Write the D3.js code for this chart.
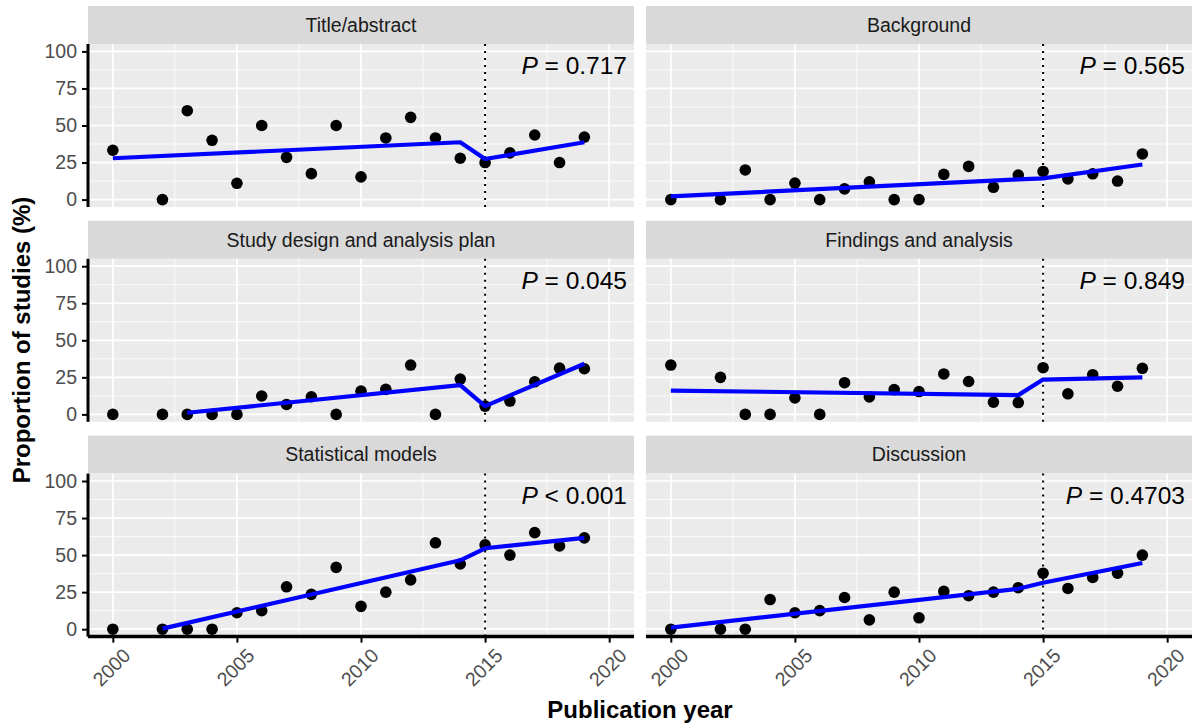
<!DOCTYPE html>
<html><head><meta charset="utf-8">
<script src="https://cdn.jsdelivr.net/npm/d3@7"></script>
<style>
body{margin:0;background:#fff;}
svg{display:block;font-family:"Liberation Sans",Arial,sans-serif;}
</style></head>
<body><svg id="chart" width="1193" height="727"></svg>
<script>
const years = [2000,2002,2003,2004,2005,2006,2007,2008,2009,2010,2011,2012,2013,2014,2015,2016,2017,2018,2019];
const panelNames = ["Title/abstract","Background","Study design and analysis plan","Findings and analysis","Statistical models","Discussion"];
const pOps = ["=","=","=","=","<","="];
const pValues = ["0.717","0.565","0.045","0.849","0.001","0.4703"];

const titleAbstract = [33.3,0,60,40,11,50,28.5,17.5,50,15.3,41.6,55.5,41.6,27.9,25,31.5,43.6,25,42.2];
const background    = [0,0,20,0,11.1,0,7.2,12,0,0,17,22.4,8.3,16.6,19,13.9,17.4,12.5,30.8];
const studyDesign   = [0,0,0,0,0,12.4,6.7,11.9,0,15.7,16.9,33.3,0,23.8,5.6,9,22,31.2,30.8];
const findings      = [33.3,25,0,0,11.1,0,21.4,11.8,16.7,15.4,27.3,22.2,8.3,8,31.5,13.9,26.8,19,31.1];
const statModels    = [0,0,0,0,11.1,12.5,28.6,23.5,41.7,15.4,25,33.3,58.3,44,56.9,50,65.2,56.2,61.6];
const discussion    = [0,0,0,20,11.1,12.5,21.4,6.3,25,7.7,25.5,22.6,25,28,37.8,27.5,34.9,37.8,50];
const seriesValues = [titleAbstract,background,studyDesign,findings,statModels,discussion];

// segmented-regression fitted lines (year, value)
const fitYears = [
  [2000,2014,2015,2019],
  [2000,2014,2015,2019],
  [2003,2014,2015,2019],
  [2000,2014,2015,2019],
  [2002,2014,2015,2019],
  [2000,2014,2015,2019]
];
const fitValues = [
  [27.9,38.7,27.4,38.7],
  [2.2,13.6,14.3,23.7],
  [1.1,19.8,5.6,34.2],
  [16.1,13.0,23.5,25.0],
  [0.4,46.5,54.6,61.6],
  [1.1,27.3,31.3,44.7]
];
const breakYear = 2015;
const xTicks = [2000,2005,2010,2015,2020];
const xMinor = [2002.5,2007.5,2012.5,2017.5];
const yTicks = [0,25,50,75,100];
const yMinor = [12.5,37.5,62.5,87.5];

const svg = d3.select("#chart");
const colX = [88, 646];
const panelW = 546;
const panelH = 163;
const rowTop = [44, 258.8, 473.6];
const stripH = 38;

const x = d3.scaleLinear().domain([1999, 2021]).range([0, panelW]);
const y = d3.scaleLinear().domain([-5, 105]).range([panelH, 0]);

panelNames.forEach((name, i) => {
  const col = i % 2, row = Math.floor(i / 2);
  const g = svg.append("g").attr("transform", `translate(${colX[col]},${rowTop[row]})`);
  // strip
  g.append("rect").attr("x",0).attr("y",-stripH).attr("width",panelW).attr("height",stripH).attr("fill","#D9D9D9");
  g.append("text").attr("x",panelW/2).attr("y",-stripH/2).attr("dy","0.35em").attr("text-anchor","middle")
    .attr("font-size",19.5).attr("fill","#1A1A1A").text(name);
  // panel bg
  g.append("rect").attr("width",panelW).attr("height",panelH).attr("fill","#EBEBEB");
  // minor grid
  g.selectAll(".ymin").data(yMinor).enter().append("line")
    .attr("x1",0).attr("x2",panelW).attr("y1",d=>y(d)).attr("y2",d=>y(d))
    .attr("stroke","#fff").attr("stroke-width",0.8);
  g.selectAll(".xmin").data(xMinor).enter().append("line")
    .attr("y1",0).attr("y2",panelH).attr("x1",d=>x(d)).attr("x2",d=>x(d))
    .attr("stroke","#fff").attr("stroke-width",0.8);
  // major grid
  g.selectAll(".ymaj").data(yTicks).enter().append("line")
    .attr("x1",0).attr("x2",panelW).attr("y1",d=>y(d)).attr("y2",d=>y(d))
    .attr("stroke","#fff").attr("stroke-width",1.7);
  g.selectAll(".xmaj").data(xTicks).enter().append("line")
    .attr("y1",0).attr("y2",panelH).attr("x1",d=>x(d)).attr("x2",d=>x(d))
    .attr("stroke","#fff").attr("stroke-width",1.7);
  // break line
  g.append("line").attr("x1",x(breakYear)).attr("x2",x(breakYear)).attr("y1",0).attr("y2",panelH)
    .attr("stroke","#000").attr("stroke-width",2).attr("stroke-dasharray","2,5");
  // points
  g.selectAll(".pt").data(years.map((yr,k)=>[yr, seriesValues[i][k]])).enter().append("circle")
    .attr("cx",d=>x(d[0])).attr("cy",d=>y(d[1])).attr("r",5.8).attr("fill","#000");
  // fit line
  const fit = fitYears[i].map((yr,k)=>[yr, fitValues[i][k]]);
  g.append("path").datum(fit).attr("fill","none").attr("stroke","#0000FF").attr("stroke-width",4.2)
    .attr("stroke-linejoin","round")
    .attr("d", d3.line().x(d=>x(d[0])).y(d=>y(d[1])));
  // P label
  const t = g.append("text").attr("x",panelW-7).attr("y",30).attr("text-anchor","end")
    .attr("font-size",24.5).attr("fill","#000");
  t.append("tspan").attr("font-style","italic").text("P");
  t.append("tspan").text(" " + pOps[i] + " " + pValues[i]);

  // axes
  if (col === 0) {
    const ax = g.append("g").call(d3.axisLeft(y).tickValues(yTicks).tickSize(6).tickPadding(5));
    ax.select(".domain").attr("stroke","#000").attr("stroke-width",3).attr("d",`M0,0V${panelH}`);
    ax.selectAll(".tick line").attr("stroke","#000").attr("stroke-width",2);
    ax.selectAll(".tick text").attr("font-size",19.5).attr("fill","#4D4D4D").attr("font-family","Liberation Sans, Arial, sans-serif");
  }
  if (row === 2) {
    const ax = g.append("g").attr("transform",`translate(0,${panelH})`)
      .call(d3.axisBottom(x).tickValues(xTicks).tickFormat(d3.format("d")).tickSize(6));
    ax.select(".domain").attr("stroke","#000").attr("stroke-width",3.5).attr("d",`M0,0H${panelW}`);
    ax.selectAll(".tick line").attr("stroke","#000").attr("stroke-width",2);
    ax.selectAll(".tick text").attr("font-size",19.5).attr("fill","#4D4D4D")
      .attr("font-family","Liberation Sans, Arial, sans-serif")
      .attr("text-anchor","end").attr("y",0).attr("dy","0.75em")
      .attr("transform","translate(8,10) rotate(-45)");
  }
});

// axis titles
svg.append("text").attr("x",640).attr("y",718).attr("text-anchor","middle")
  .attr("font-size",24).attr("font-weight","bold").attr("fill","#000").text("Publication year");
svg.append("text").attr("transform","translate(30,340) rotate(-90)").attr("text-anchor","middle")
  .attr("font-size",24).attr("font-weight","bold").attr("fill","#000").text("Proportion of studies (%)");
</script></body></html>
